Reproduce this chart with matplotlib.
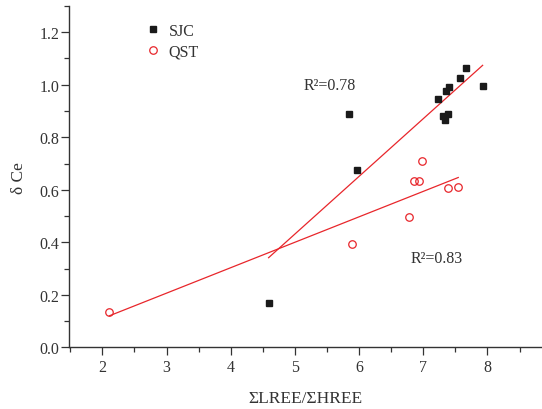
import numpy as np
import matplotlib
matplotlib.use('Agg')
import matplotlib.pyplot as plt
from matplotlib.ticker import MultipleLocator

plt.rcParams['font.family'] = ['Liberation Serif', 'DejaVu Serif']

# SJC samples
sjc_x = [4.59, 5.85, 5.97, 7.235, 7.35, 7.40, 7.31, 7.385, 7.34, 7.58, 7.67, 7.925]
sjc_y = [0.17, 0.888, 0.675, 0.945, 0.975, 0.99, 0.882, 0.888, 0.867, 1.025, 1.063, 0.994]

# QST samples
qst_x = [2.11, 5.89, 6.78, 6.86, 6.93, 6.98, 7.385, 7.545]
qst_y = [0.136, 0.394, 0.495, 0.632, 0.632, 0.709, 0.606, 0.612]

text_col = '#333333'

fig = plt.figure(figsize=(5.42, 4.10), dpi=100)
ax = fig.add_axes([0.1273, 0.1505, 0.8727, 0.8325])

ax.plot(sjc_x, sjc_y, 's', color='#1a1a1a', markersize=4.8, label='SJC', zorder=3)
ax.plot(qst_x, qst_y, 'o', markerfacecolor='none', markeredgecolor='#e8262b',
        markeredgewidth=0.9, markersize=5.4, label='QST', zorder=3)

# linear fits over each data range
for xs, ys in [(sjc_x, sjc_y), (qst_x, qst_y)]:
    k, b = np.polyfit(xs, ys, 1)
    xx = np.array([min(xs), max(xs)])
    ax.plot(xx, k * xx + b, color='#e8262b', linewidth=0.9, zorder=2)

ax.text(5.14, 1.0, 'R²=0.78', fontsize=11.5, color=text_col, va='center')
ax.text(6.8, 0.34, 'R²=0.83', fontsize=11.5, color=text_col, va='center')

ax.set_xlim(1.48, 8.85)
ax.set_ylim(0, 1.3)
ax.xaxis.set_major_locator(MultipleLocator(1))
ax.xaxis.set_minor_locator(MultipleLocator(0.5))
ax.yaxis.set_major_locator(MultipleLocator(0.2))
ax.yaxis.set_minor_locator(MultipleLocator(0.1))
ax.yaxis.set_major_formatter(plt.FuncFormatter(lambda v, p: f'{v:.1f}'))

for s in ['top', 'right']:
    ax.spines[s].set_visible(False)
for s in ['left', 'bottom']:
    ax.spines[s].set_color(text_col)
    ax.spines[s].set_linewidth(1.0)

ax.tick_params(which='major', direction='out', length=5.5, width=0.9, color=text_col,
               labelsize=11.5, labelcolor=text_col)
ax.tick_params(which='minor', direction='out', length=3.5, width=0.9, color=text_col)
ax.tick_params(axis='y', pad=1.5)
ax.tick_params(axis='x', pad=3)

ax.set_xlabel('ΣLREE/ΣHREE', fontsize=12.5, color=text_col, labelpad=11)
ax.set_ylabel('δ Ce', fontsize=12.5, color=text_col, labelpad=9)

ax.legend(loc='upper left', bbox_to_anchor=(0.13, 0.993), frameon=False, fontsize=11.5,
          handlelength=1.0, handletextpad=0.5, labelspacing=0.3, labelcolor=text_col)

fig.savefig('out.png', dpi=100)
